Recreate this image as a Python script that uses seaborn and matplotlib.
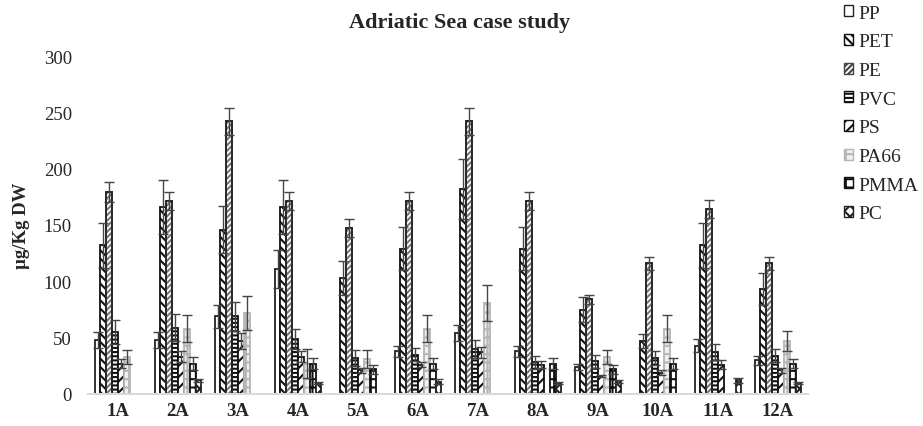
import numpy as np
import pandas as pd
import matplotlib
matplotlib.use("Agg")
import matplotlib.pyplot as plt
from matplotlib.patches import Patch, Rectangle
import seaborn as sns

sites = ["1A", "2A", "3A", "4A", "5A", "6A", "7A", "8A", "9A", "10A", "11A", "12A"]
polymers = ["PP", "PET", "PE", "PVC", "PS", "PA66", "PMMA", "PC"]

PP = [48, 48, 69, 111, 0, 38, 54, 38, 24, 0, 43, 30]
PP_err = [7, 7, 10, 17, 0, 5, 7, 5, 3, 0, 6, 4]
PET = [132, 166, 146, 166, 103, 129, 182, 129, 75, 47, 132, 93]
PET_err = [20, 24, 21, 24, 15, 19, 27, 19, 11, 6, 20, 14]
PE = [179, 171, 242, 171, 147, 171, 242, 171, 84, 116, 164, 116]
PE_err = [9, 8, 12, 8, 8, 8, 12, 8, 4, 6, 8, 6]
PVC = [55, 59, 69, 49, 32, 35, 40, 28, 29, 32, 37, 34]
PVC_err = [11, 12, 13, 9, 7, 6, 8, 6, 6, 6, 7, 6]
PS = [27, 33, 47, 33, 21, 26, 37, 26, 16, 19, 26, 21]
PS_err = [4, 5, 7, 5, 2, 2, 5, 3, 1, 2, 4, 2]
PA66 = [33, 58, 72, 27, 31, 58, 81, 0, 33, 58, 0, 47]
PA66_err = [6, 12, 15, 13, 8, 12, 16, 0, 6, 12, 0, 9]
PMMA = [0, 27, 0, 27, 22, 27, 0, 27, 22, 27, 0, 27]
PMMA_err = [0, 6, 0, 5, 4, 5, 0, 5, 4, 5, 0, 4]
PC = [0, 12, 0, 10, 0, 11, 0, 10, 11, 0, 12, 10]
PC_err = [0, 1, 0, 1, 0, 2, 0, 1, 1, 0, 2, 1]

values = {"PP": PP, "PET": PET, "PE": PE, "PVC": PVC, "PS": PS,
          "PA66": PA66, "PMMA": PMMA, "PC": PC}
errors = {"PP": PP_err, "PET": PET_err, "PE": PE_err, "PVC": PVC_err, "PS": PS_err,
          "PA66": PA66_err, "PMMA": PMMA_err, "PC": PC_err}

rows = []
for p in polymers:
    for s, v in zip(sites, values[p]):
        rows.append({"site": s, "polymer": p, "value": v})
df = pd.DataFrame(rows)

sns.set_style("white")
plt.rcParams["font.family"] = ["Liberation Serif", "DejaVu Serif"]
plt.rcParams["hatch.linewidth"] = 1.5

# style per polymer: (face, hatch/edge colour, outline colour, hatch)
styles = {
    "PP":   ("white", "#222222", "#222222", None),
    "PET":  ("white", "#111111", "#111111", "\\\\\\\\"),
    "PE":   ("white", "#777777", "#222222", "//////"),
    "PVC":  ("white", "#111111", "#111111", "----"),
    "PS":   ("white", "#111111", "#111111", "///"),
    "PA66": ("#f0f0f0", "#b5b5b5", "#b5b5b5", "++"),
    "PMMA": ("white", "#111111", "#111111", "++"),
    "PC":   ("white", "#222222", "#222222", "xxx"),
}


def style_patch(patch, p):
    face, hcol, outline, hatch = styles[p]
    patch.set_facecolor(face)
    patch.set_edgecolor(hcol)
    patch.set_linewidth(1.3)
    if hatch:
        patch.set_hatch(hatch)


fig = plt.figure(figsize=(9.23, 4.27), dpi=100)
ax = fig.add_axes([88 / 923, 1 - 395 / 427, 720 / 923, 338 / 427])

sns.barplot(data=df, x="site", y="value", hue="polymer", order=sites,
            hue_order=polymers, errorbar=None, width=0.78, ax=ax,
            palette=["white"] * len(polymers), saturation=1, legend=False)

for p, cont in zip(polymers, ax.containers):
    xs, ys = [], []
    for bar in cont.patches:
        style_patch(bar, p)
        if styles[p][2] != styles[p][1] and bar.get_height() > 0:
            ax.add_patch(Rectangle(bar.get_xy(), bar.get_width(), bar.get_height(),
                                   fill=False, edgecolor=styles[p][2],
                                   linewidth=1.3, zorder=bar.get_zorder()))
        xs.append(bar.get_x() + bar.get_width() / 2)
        ys.append(bar.get_height())
    xs = np.array(xs)
    ys = np.array(ys)
    err = np.array(errors[p], dtype=float)
    m = ys > 0
    ax.errorbar(xs[m], ys[m], yerr=err[m], fmt="none", ecolor="#444444",
                elinewidth=1.0, capsize=3.5, capthick=1.0, zorder=5)

ax.set_ylim(0, 300)
ax.set_xlim(-0.5, len(sites) - 0.5)
ax.set_yticks([0, 50, 100, 150, 200, 250, 300])
ax.tick_params(axis="y", labelsize=13.5, length=0, pad=11.5)
ax.tick_params(axis="x", labelsize=13.5, length=0, pad=6)
for t in ax.get_xticklabels():
    t.set_fontweight("bold")
ax.set_xlabel("")
ax.set_ylabel("µg/Kg DW", fontsize=13.5, fontweight="bold")
ax.yaxis.set_label_coords((30 - 88) / 720, 0.5)
ax.set_title("Adriatic Sea case study", fontsize=16, fontweight="bold", pad=21,
             x=0.5 + 12 / 720)

for side in ["left", "right", "top"]:
    ax.spines[side].set_visible(False)
ax.spines["bottom"].set_color("#d9d9d9")
ax.spines["bottom"].set_linewidth(1.5)
ax.grid(False)

handles = []
for p in polymers:
    h = Patch(label=p)
    style_patch(h, p)
    h.set_linewidth(1.0)
    if styles[p][2] != styles[p][1]:
        h.set_edgecolor("#444444")
    handles.append(h)
fig.legend(handles, polymers, loc="upper left",
           bbox_to_anchor=(834 / 923, 1.0 + 4 / 427),
           frameon=False, fontsize=14, handlelength=0.5, handleheight=0.5,
           handletextpad=0.25, labelspacing=0.6, borderaxespad=0.1)

fig.savefig("out.png", dpi=100)
